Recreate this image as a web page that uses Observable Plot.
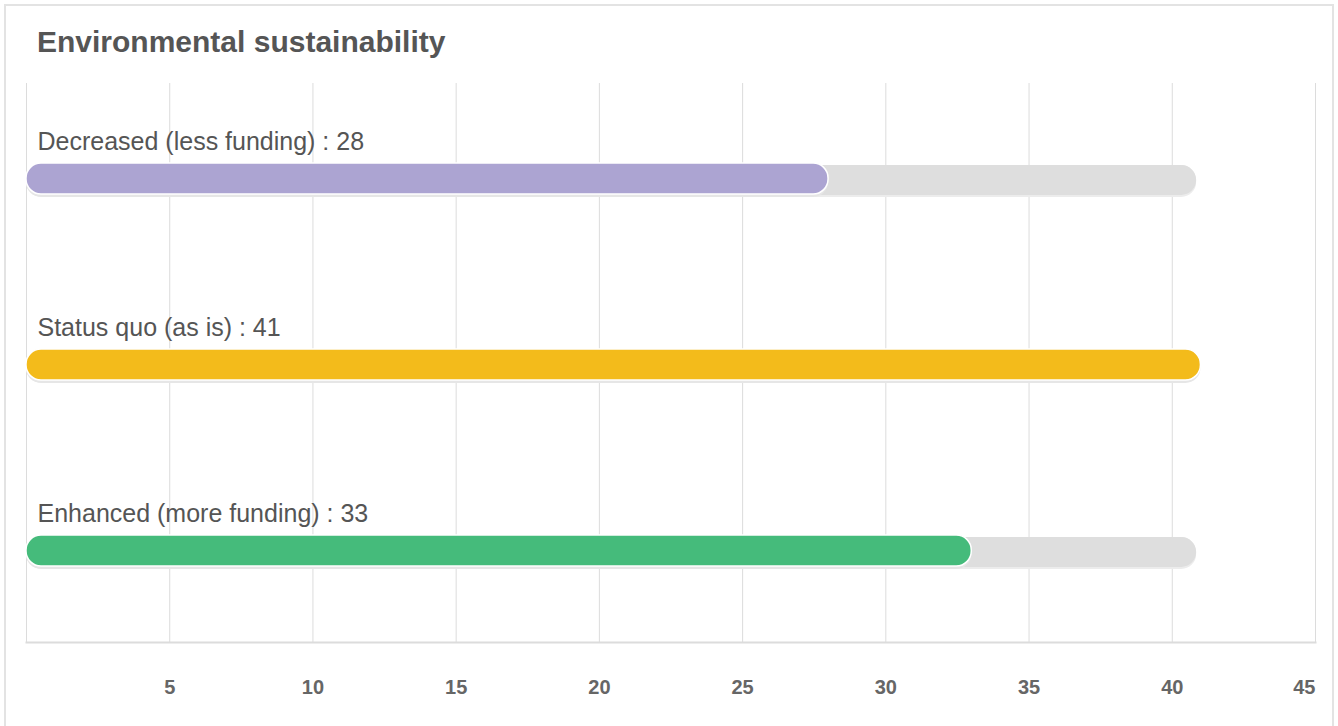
<!DOCTYPE html>
<html>
<head>
<meta charset="utf-8">
<script src="https://cdn.jsdelivr.net/npm/d3@7"></script>
<script src="https://cdn.jsdelivr.net/npm/@observablehq/plot@0.6"></script>
<style>
  html, body { margin: 0; padding: 0; background: #fff; }
  body { width: 1338px; height: 726px; position: relative; overflow: hidden;
         font-family: "Liberation Sans", Arial, Helvetica, sans-serif; }
  #card { position: absolute; left: 4px; top: 4px; width: 1330px; height: 800px;
          border: 2px solid #e3e3e3; box-sizing: border-box; }
  #title { position: absolute; left: 37px; top: 26px; font-size: 30px; line-height: 32px;
           font-weight: bold; color: #555; }
  #chart { position: absolute; left: 0; top: 62px; }
</style>
</head>
<body>
<div id="card"></div>
<div id="title">Environmental sustainability</div>
<div id="chart"></div>
<script>
const categories = ["Decreased (less funding)", "Status quo (as is)", "Enhanced (more funding)"];
const values = [28, 41, 33];
const colors = ["#aca4d2", "#f3bb1b", "#45bb7b"];
const trackMax = 40.85;
const xTicks = [5, 10, 15, 20, 25, 30, 35, 40, 45];
const gridTicks = [0, 5, 10, 15, 20, 25, 30, 35, 40, 45];

const data = categories.map((c, i) => ({category: c, value: values[i], color: colors[i], label: `${c} : ${values[i]}`}));

const chart = Plot.plot({
  width: 1338,
  height: 664,
  marginLeft: 26,
  marginRight: 23,
  marginTop: 21,
  marginBottom: 84,
  style: {fontFamily: '"Liberation Sans", Arial, Helvetica, sans-serif', background: "transparent"},
  x: {domain: [0, 45], axis: null},
  y: {domain: categories, axis: null, padding: 0},
  marks: [
    Plot.gridX(gridTicks, {stroke: "#dcdcdc", strokeOpacity: 1, strokeWidth: 1}),
    Plot.frame({anchor: "bottom", stroke: "#dcdcdc", strokeWidth: 2}),
    // shadow under tracks
    Plot.barX(data, {y: "category", x1: 0, x2: trackMax, fill: "#ececec", insetTop: 81, insetBottom: 73, rx: 15}),
    // track
    Plot.barX(data, {y: "category", x1: 0, x2: trackMax, fill: "#dedede", insetTop: 81, insetBottom: 75, rx: 15}),
    // value shadow
    Plot.barX(data, {y: "category", x1: 0, x2: "value", fill: "#e6e6e6", insetTop: 80, insetBottom: 73, rx: 15}),
    // value bar
    Plot.barX(data, {y: "category", x1: 0, x2: "value", fill: "color", stroke: "#fff", strokeWidth: 1.5, insetTop: 79, insetBottom: 76, rx: 15}),
    Plot.text(data, {y: "category", x: 0, text: "label", textAnchor: "start", dx: 11, dy: -36, fontSize: 25, fill: "#555"}),
    Plot.axisX(xTicks.filter(d => d !== 45), {tickSize: 0, tickPadding: 37, fontSize: 20, fontWeight: "bold", fill: "#666", label: null}),
    Plot.axisX([45], {tickSize: 0, tickPadding: 37, fontSize: 20, fontWeight: "bold", fill: "#666", textAnchor: "end", label: null})
  ]
});
document.getElementById("chart").appendChild(chart);
</script>
</body>
</html>
